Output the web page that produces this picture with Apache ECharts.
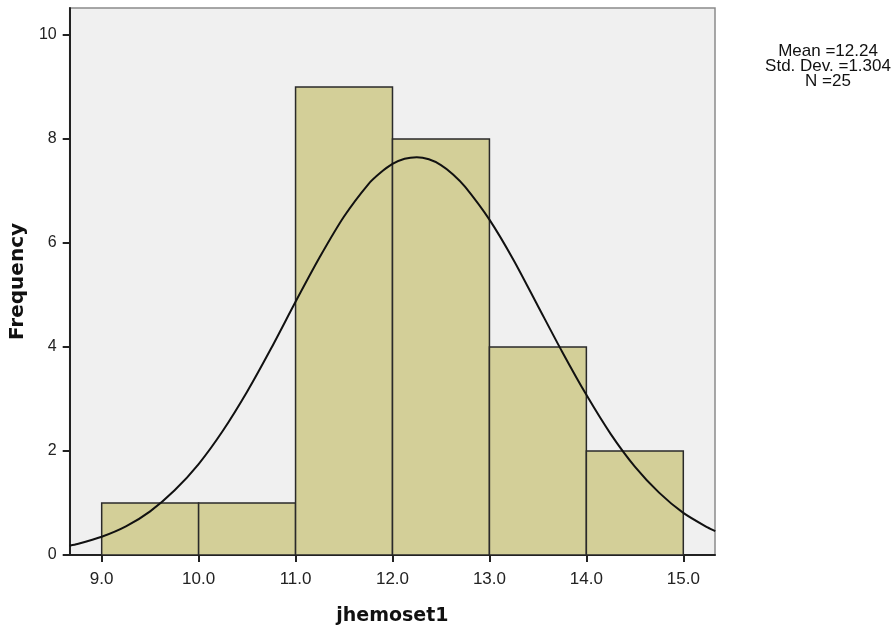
<!DOCTYPE html>
<html>
<head>
<meta charset="utf-8">
<script src="https://cdn.jsdelivr.net/npm/echarts@6/dist/echarts.min.js"></script>
<style>
  html, body { margin: 0; padding: 0; background: #ffffff; }
  #chart { width: 895px; height: 634px; }
</style>
</head>
<body>
<div id="chart"></div>
<script>
// Histogram bins of jhemoset1 (lower edge, upper edge) and their counts
const binStarts = [9, 10, 11, 12, 13, 14];
const binEnds = [10, 11, 12, 13, 14, 15];
const binCounts = [1, 1, 9, 8, 4, 2];

// Fitted normal curve, sampled along the x range (denser around the peak)
const curveX = [8.67, 8.75, 9.0, 9.25, 9.5, 9.75, 10.0, 10.25, 10.5, 10.75, 11.0, 11.25, 11.5, 11.75,
  11.875, 12.0, 12.125, 12.25, 12.375, 12.5, 12.625, 12.75, 13.0, 13.25, 13.5, 13.75, 14.0, 14.25,
  14.5, 14.75, 15.0, 15.25, 15.33];
const curveY = [0.18, 0.21, 0.35, 0.55, 0.84, 1.24, 1.75, 2.39, 3.14, 3.98, 4.87, 5.73, 6.51, 7.13,
  7.35, 7.52, 7.62, 7.65, 7.61, 7.50, 7.32, 7.08, 6.45, 5.67, 4.79, 3.91, 3.08, 2.33,
  1.70, 1.20, 0.81, 0.53, 0.46];

// Axis tick values
const xTicks = [9, 10, 11, 12, 13, 14, 15];
const yTicks = [0, 2, 4, 6, 8, 10];

// Summary statistics shown beside the plot
const statLines = ['Mean =12.24', 'Std. Dev. =1.304', 'N =25'];

const binData = binStarts.map((s, i) => [s, binEnds[i], binCounts[i]]);
const curveData = curveX.map((x, i) => [x, curveY[i]]);

const chart = echarts.init(document.getElementById('chart'), null, { renderer: 'canvas' });

chart.setOption({
  animation: false,
  backgroundColor: '#ffffff',
  grid: {
    left: 69, top: 8, right: 180, bottom: 79,
    show: true,
    backgroundColor: '#f0f0f0',
    borderColor: '#8a8a8a',
    borderWidth: 1.5
  },
  xAxis: {
    type: 'value',
    min: 8.67,
    max: 15.327,
    name: 'jhemoset1',
    nameLocation: 'middle',
    nameGap: 52,
    nameTextStyle: { fontFamily: 'DejaVu Sans', fontWeight: 'bold', fontSize: 19, color: '#111' },
    splitLine: { show: false },
    axisLine: { show: true, onZero: false, lineStyle: { color: '#222', width: 2 } },
    axisTick: { show: true, inside: false, length: 7, customValues: xTicks, lineStyle: { color: '#222', width: 2 } },
    axisLabel: {
      customValues: xTicks,
      formatter: v => v.toFixed(1),
      margin: 16,
      fontFamily: 'Liberation Sans',
      fontSize: 17,
      color: '#222'
    }
  },
  yAxis: {
    type: 'value',
    min: 0,
    max: 10.52,
    name: 'Frequency',
    nameLocation: 'middle',
    nameRotate: 90,
    nameGap: 38,
    nameTextStyle: { fontFamily: 'DejaVu Sans', fontWeight: 'bold', fontSize: 20, color: '#111' },
    splitLine: { show: false },
    axisLine: { show: true, lineStyle: { color: '#222', width: 2 } },
    axisTick: { show: true, inside: false, length: 7, customValues: yTicks, lineStyle: { color: '#222', width: 2 } },
    axisLabel: {
      customValues: yTicks,
      margin: 13,
      fontFamily: 'Liberation Sans',
      fontSize: 16,
      color: '#222'
    }
  },
  graphic: [{
    type: 'text',
    x: 828,
    y: 44,
    style: {
      text: statLines.join('\n'),
      fontFamily: 'Liberation Sans',
      fontSize: 17,
      lineHeight: 15,
      fill: '#111',
      align: 'center',
      verticalAlign: 'top'
    }
  }],
  series: [
    {
      type: 'custom',
      name: 'bins',
      clip: true,
      z: 2,
      data: binData,
      encode: { x: [0, 1], y: 2 },
      renderItem: function (params, api) {
        const p0 = api.coord([api.value(0), api.value(2)]);
        const p1 = api.coord([api.value(1), 0]);
        return {
          type: 'rect',
          shape: { x: p0[0], y: p0[1], width: p1[0] - p0[0], height: p1[1] - p0[1] },
          style: { fill: '#d3cf98', stroke: '#2a2a2a', lineWidth: 1.5 }
        };
      }
    },
    {
      type: 'line',
      name: 'normal',
      z: 3,
      data: curveData,
      smooth: 0.25,
      showSymbol: false,
      lineStyle: { color: '#111', width: 2 }
    }
  ]
});
</script>
</body>
</html>
